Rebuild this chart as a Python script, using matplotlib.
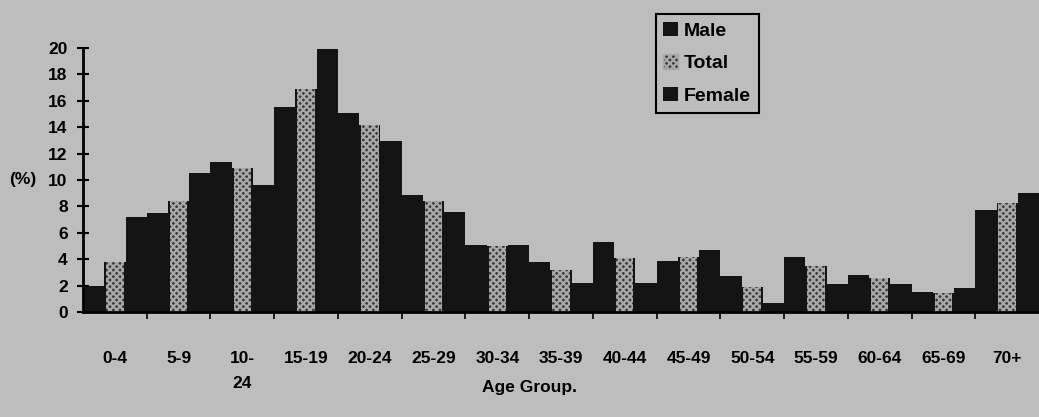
import numpy as np
import matplotlib.pyplot as plt
from matplotlib.patches import Patch

grupos = ["0-4", "5-9", "10-\n24", "15-19", "20-24", "25-29", "30-34", "35-39",
          "40-44", "45-49", "50-54", "55-59", "60-64", "65-69", "70+"]
hombres = [2.0, 7.5, 11.4, 15.5, 15.1, 8.9, 5.05, 3.8, 5.3, 3.9, 2.7, 4.2, 2.8, 1.55, 7.7]
total   = [3.8, 8.4, 10.9, 16.9, 14.2, 8.4, 5.0, 3.2, 4.1, 4.15, 1.9, 3.5, 2.55, 1.45, 8.25]
mujeres = [7.2, 10.5, 9.6, 19.9, 12.95, 7.55, 5.05, 2.2, 2.2, 4.7, 0.65, 2.15, 2.15, 1.8, 9.05]

FONDO = "#bdbdbd"
OSCURO = "#141414"
plt.rcParams["hatch.linewidth"] = 1.6
FUENTE = ["Liberation Sans", "DejaVu Sans"]
TAM = 12.5

fig = plt.figure(figsize=(10.39, 4.17), dpi=100, facecolor=FONDO)
ax = fig.add_axes([0.0799, 0.2518, 0.9201, 0.6331], facecolor=FONDO)

x = np.arange(len(grupos))
w = 1 / 3
ax.bar(x + w / 2, hombres, w, color=OSCURO, linewidth=0)
ax.bar(x + 3 * w / 2, total, w, color=OSCURO, linewidth=0)
ax.bar(x + 3 * w / 2, total, w * 0.82, color="#3a3a3a", hatch="xxxxx",
       edgecolor="#a8a8a8", linewidth=0)
ax.bar(x + 5 * w / 2, mujeres, w, color=OSCURO, linewidth=0)

ax.set_xlim(0, len(grupos))
ax.set_ylim(0, 20)
for s in ["top", "right"]:
    ax.spines[s].set_visible(False)
ax.spines["left"].set_linewidth(2)
ax.spines["bottom"].set_linewidth(2)

ax.set_yticks(np.arange(0, 21, 2))
ax.set_yticklabels([str(v) for v in range(0, 21, 2)], family=FUENTE,
                   fontsize=TAM, fontweight="bold")
ax.tick_params(axis="y", direction="inout", length=8, width=1.5, pad=7)

ax.set_xticks(np.arange(1, len(grupos)), minor=False)
ax.set_xticklabels([])
ax.set_xticks(x + 0.5, minor=True)
ax.set_xticklabels(grupos, minor=True, family=FUENTE, fontsize=TAM,
                   fontweight="bold", va="top", linespacing=1.85)
ax.tick_params(axis="x", which="major", direction="out", length=5, width=1.2)
ax.tick_params(axis="x", which="minor", length=0, pad=28)

ax.text(-0.049, 0.5, "(%)", transform=ax.transAxes, ha="right", va="center",
        family=FUENTE, fontsize=TAM, fontweight="bold")
fig.text(0.51, 0.07, "Age Group.", ha="center", va="center",
         family=FUENTE, fontsize=TAM, fontweight="bold")

manejadores = [Patch(facecolor=OSCURO, label="Male"),
               Patch(facecolor="#3a3a3a", hatch="xxxxx", edgecolor="#a8a8a8",
                     label="Total"),
               Patch(facecolor=OSCURO, label="Female")]
leg = ax.legend(handles=manejadores, loc="upper left",
                bbox_to_anchor=(0.599, 1.129), borderaxespad=0,
                frameon=True, fancybox=False,
                edgecolor="black", facecolor=FONDO, framealpha=1,
                handlelength=0.77, handleheight=0.77, handletextpad=0.3,
                borderpad=0.4, labelspacing=0.75,
                prop={"family": FUENTE, "size": 14, "weight": "bold"})
leg.get_frame().set_linewidth(1.5)

fig.savefig("out.png", dpi=100, facecolor=FONDO)
